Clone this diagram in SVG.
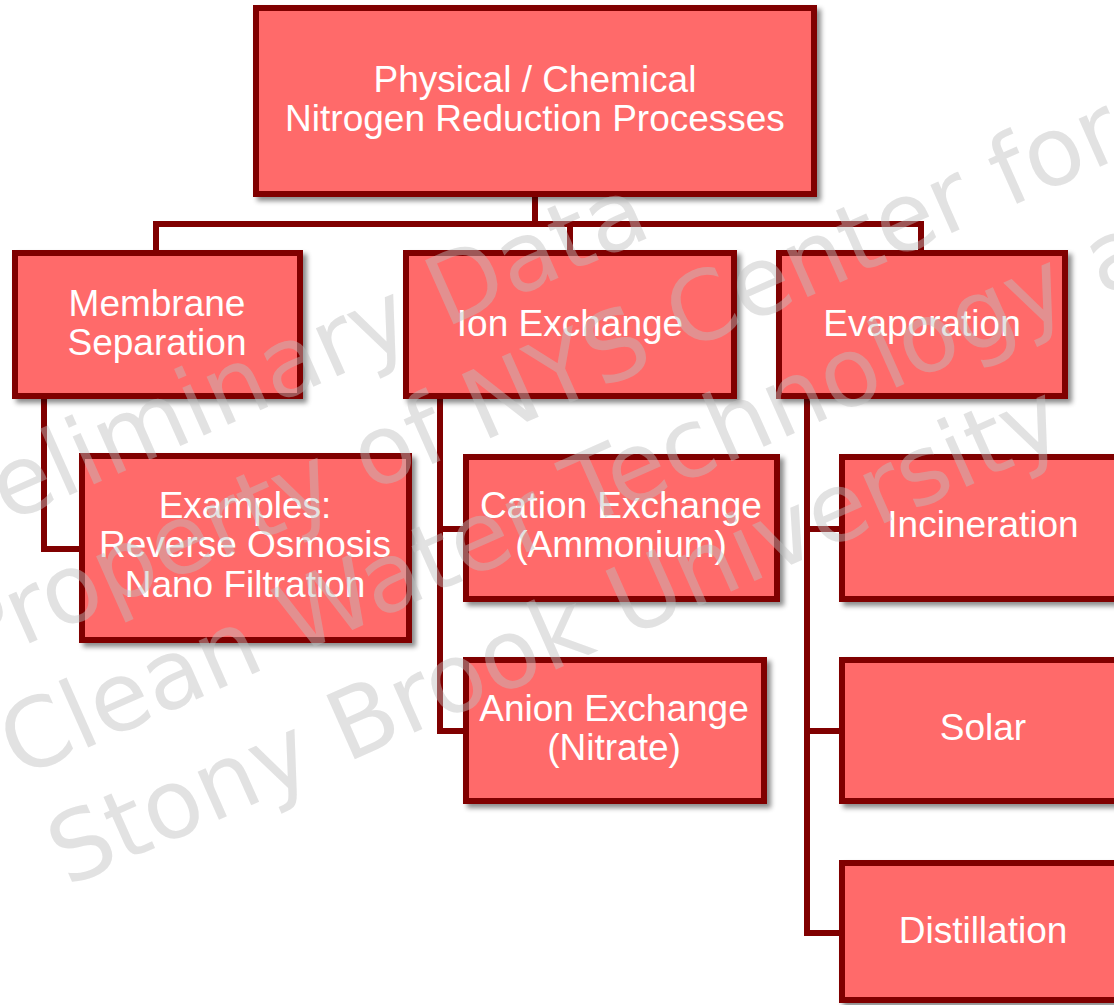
<svg xmlns="http://www.w3.org/2000/svg" width="1114" height="1005" viewBox="0 0 1114 1005">
  <defs>
    <filter id="sh" x="-10%" y="-10%" width="130%" height="130%">
      <feDropShadow dx="4" dy="4" stdDeviation="2.5" flood-color="#000" flood-opacity="0.45"/>
    </filter>
  </defs>
  <style>
    .box { fill: #FF6B6B; stroke: #800000; stroke-width: 6; filter: url(#sh); }
    .lbl { font-family: "Liberation Sans", Arial, sans-serif; font-size: 37px; fill: #ffffff; text-anchor: middle; }
    .con { fill: none; stroke: #800000; stroke-width: 6; stroke-linejoin: miter; stroke-linecap: square; }
    .wm { font-family: "DejaVu Sans", Verdana, sans-serif; font-size: 96px; fill: #c0c0c0; opacity: 0.45; }
  </style>
  <rect width="1114" height="1005" fill="#ffffff"/>

  <g id="connectors">
    <path class="con" d="M535 197 V224 M156 250 V224 H921 V250 M570 224 V250"/>
    <path class="con" d="M44 399 V549 H79"/>
    <path class="con" d="M440 399 V731 H463 M440 529 H463"/>
    <path class="con" d="M807 399 V933 H839 M807 529 H839 M807 731 H839"/>
  </g>

  <g id="node-root">
    <rect class="box" x="256" y="8" width="558" height="186"/>
    <text class="lbl" x="535" y="92">Physical / Chemical</text>
    <text class="lbl" x="535" y="131">Nitrogen Reduction Processes</text>
  </g>
  <g id="node-membrane">
    <rect class="box" x="15" y="253" width="285" height="143"/>
    <text class="lbl" x="157" y="316">Membrane</text>
    <text class="lbl" x="157" y="355">Separation</text>
  </g>
  <g id="node-ion">
    <rect class="box" x="406" y="253" width="328" height="143"/>
    <text class="lbl" x="570" y="336">Ion Exchange</text>
  </g>
  <g id="node-evap">
    <rect class="box" x="779" y="253" width="286" height="143"/>
    <text class="lbl" x="922" y="336">Evaporation</text>
  </g>
  <g id="node-examples">
    <rect class="box" x="82" y="456" width="327" height="184"/>
    <text class="lbl" x="245" y="518">Examples:</text>
    <text class="lbl" x="245" y="557">Reverse Osmosis</text>
    <text class="lbl" x="245" y="597">Nano Filtration</text>
  </g>
  <g id="node-cation">
    <rect class="box" x="466" y="457" width="311" height="142"/>
    <text class="lbl" x="621" y="518">Cation Exchange</text>
    <text class="lbl" x="621" y="557">(Ammonium)</text>
  </g>
  <g id="node-anion">
    <rect class="box" x="466" y="660" width="298" height="141"/>
    <text class="lbl" x="614" y="721">Anion Exchange</text>
    <text class="lbl" x="614" y="760">(Nitrate)</text>
  </g>
  <g id="node-incineration">
    <rect class="box" x="842" y="457" width="282" height="142"/>
    <text class="lbl" x="983" y="537">Incineration</text>
  </g>
  <g id="node-solar">
    <rect class="box" x="842" y="660" width="282" height="141"/>
    <text class="lbl" x="983" y="740">Solar</text>
  </g>
  <g id="node-distillation">
    <rect class="box" x="842" y="863" width="282" height="137"/>
    <text class="lbl" x="983" y="943">Distillation</text>
  </g>

  <g id="watermark" transform="translate(-78 561) rotate(-24)">
    <text class="wm" x="0" y="0">Preliminary Data</text>
    <text class="wm" x="0" y="119">Property of NYS Center for</text>
    <text class="wm" x="0" y="238">Clean Water Technology at</text>
    <text class="wm" x="0" y="357">Stony Brook University</text>
  </g>
</svg>
